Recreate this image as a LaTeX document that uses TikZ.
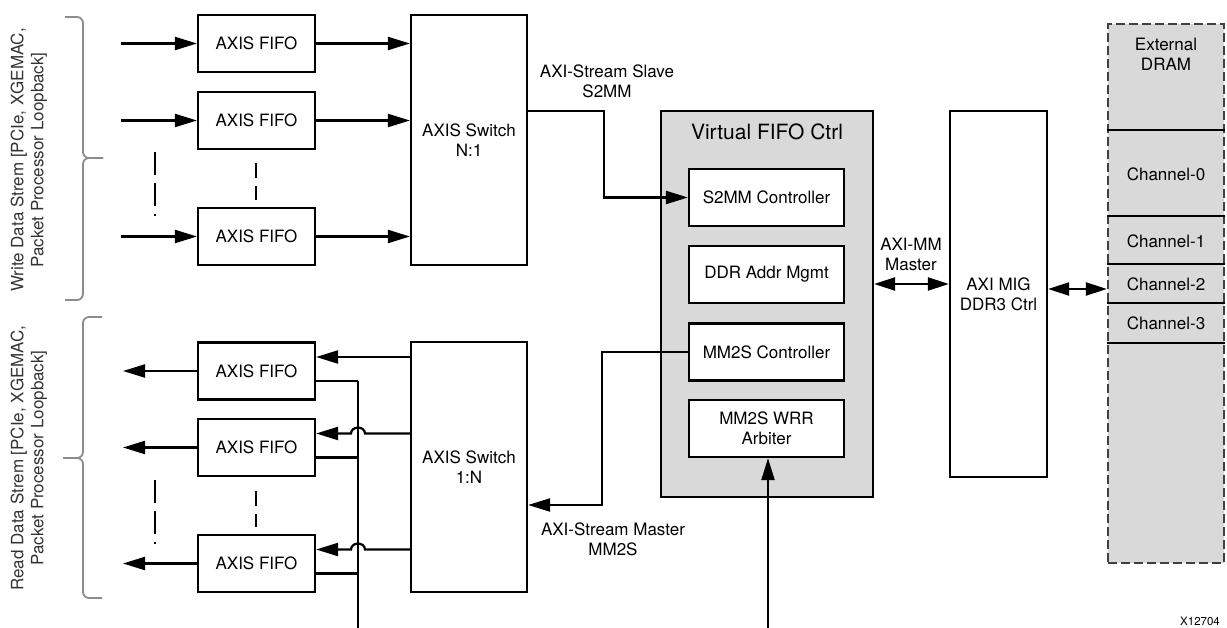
\documentclass[tikz,border=0pt]{standalone}
\usepackage{fontspec}
\setmainfont{TeX Gyre Heros}
\usetikzlibrary{arrows.meta}
\definecolor{vfgray}{RGB}{217,217,217}
\definecolor{bracegray}{RGB}{140,140,140}
\begin{document}
\begin{tikzpicture}[x=1pt,y=-1pt,line width=2.2pt,
    font=\fontsize{17}{20}\selectfont,
    blk/.style={draw,fill=white,align=center,inner sep=0pt},
    fifo/.style={blk,minimum width=117pt,minimum height=57pt},
    switchbox/.style={blk,minimum width=116pt,minimum height=250pt},
    sub/.style={blk,minimum width=155pt,minimum height=57pt},
    chan/.style={minimum width=116pt,inner sep=0pt},
    flow/.style={-{Triangle[length=22pt,width=13pt]}},
    bidir/.style={{Triangle[length=21pt,width=13pt]}-{Triangle[length=21pt,width=13pt]}},
    bracket/.style={draw=bracegray,line width=1.8pt,rounded corners=6pt}]
    \useasboundingbox (0,0) rectangle (1227,628);

    % write side
    \node[fifo] (wA) at (256.5,43.5) {AXIS FIFO};
    \node[fifo] (wB) at (256.5,120.5) {AXIS FIFO};
    \node[fifo] (wC) at (256.5,236.5) {AXIS FIFO};
    \node[switchbox] (swN) at (469,140) {AXIS Switch\\N:1};

    \coordinate (wAsrc) at (121,43.5);
    \coordinate (wBsrc) at (121,120.5);
    \coordinate (wCsrc) at (121,236.5);
    \draw[flow] (wAsrc) -- (wA);
    \draw[flow] (wBsrc) -- (wB);
    \draw[flow] (wCsrc) -- (wC);
    \draw[flow] (wA) -- (wA -| swN.west);
    \draw[flow] (wB) -- (wB -| swN.west);
    \draw[flow] (wC) -- (wC -| swN.west);

    \draw[dash pattern=on 23pt off 8pt on 23pt off 8pt on 2pt off 40pt] (155,152) -- (155,217);
    \draw[dash pattern=on 15pt off 8pt on 14pt off 40pt] (256,163) -- (256,200);

    % read side
    \node[fifo] (rA) at (256.5,371) {AXIS FIFO};
    \node[fifo] (rB) at (256.5,447.5) {AXIS FIFO};
    \node[fifo] (rC) at (256.5,563.5) {AXIS FIFO};
    \node[switchbox] (swI) at (469,467) {AXIS Switch\\1:N};

    \coordinate (rAdst) at (123,371);
    \coordinate (rBdst) at (123,447.5);
    \coordinate (rCdst) at (123,563.5);
    \draw[flow] (rA) -- (rAdst);
    \draw[flow] (rB) -- (rBdst);
    \draw[flow] (rC) -- (rCdst);

    \coordinate (bus) at (358,628);
    \coordinate (rAin) at ([yshift=14pt]rA.east);
    \coordinate (rBin) at ([yshift=14pt]rB.east);
    \coordinate (rCin) at ([yshift=14pt]rC.east);
    \coordinate (rAout) at ([yshift=-10pt]rA.east);
    \coordinate (rBout) at ([yshift=-10pt]rB.east);
    \coordinate (rCout) at ([yshift=-10pt]rC.east);
    \coordinate (hopB) at (bus |- rBin);
    \coordinate (hopC) at (bus |- rCin);
    \draw[flow] (rAin -| swI.west) -- (rAin);
    \draw[flow] (rBin -| swI.west) -- ([xshift=7pt]hopB) arc[start angle=0,end angle=180,x radius=7pt,y radius=6pt] -- (rBin);
    \draw[flow] (rCin -| swI.west) -- ([xshift=7pt]hopC) arc[start angle=0,end angle=180,x radius=7pt,y radius=6pt] -- (rCin);
    \draw (rAout) -- (rAout -| bus);
    \draw (rBout) -- (rBout -| bus);
    \draw (rCout) -- (rCout -| bus);
    \draw (bus |- rAout) -- (bus);

    \draw[dash pattern=on 23pt off 8pt on 23pt off 8pt on 2pt off 40pt] (155,480) -- (155,545);
    \draw[dash pattern=on 15pt off 8pt on 14pt off 40pt] (256,491) -- (256,527);

    % braces and side texts
    \draw[bracket] (65,17) -- (83,17) -- (83,158) -- (103,158);
    \draw[bracket] (103,158) -- (83,158) -- (83,300) -- (65,300);
    \draw[bracket] (102,317) -- (83,317) -- (83,458) -- (63,458);
    \draw[bracket] (63,458) -- (83,458) -- (83,598) -- (102,598);
    \node[rotate=90,align=center,text=black!80] (wrlbl) at (29,160) {Write Data Strem [PCIe, XGEMAC,\\Packet Processor Loopback]};
    \node[rotate=90,align=center,text=black!80] (rdlbl) at (29,458) {Read Data Strem [PCIe, XGEMAC,\\Packet Processor Loopback]};

    % virtual fifo
    \node[draw,fill=vfgray,minimum width=212pt,minimum height=386pt] (vfifo) at (767,304) {};
    \node (vftitle) at (767,132) {\fontsize{21}{24}\selectfont Virtual FIFO Ctrl};
    \node[sub] (s2mm) at (766.5,197.5) {S2MM Controller};
    \node[sub] (ddr) at (766.5,274.5) {DDR Addr Mgmt};
    \node[sub] (mm2s) at (766.5,352) {MM2S Controller};
    \node[sub] (arb) at (766.5,428.5) {MM2S WRR\\Arbiter};

    \coordinate (swNout) at ([yshift=29pt]swN.east);
    \draw[flow] (swNout) -- ++(76,0) |- (s2mm.west);
    \coordinate (swIin) at ([yshift=-38pt]swI.east);
    \draw[flow] (mm2s.west) -- ++(-86,0) |- (swIin);
    \node[align=center] (s2mmlbl) at (607,81) {AXI-Stream Slave\\S2MM};
    \node[align=center] (mm2slbl) at (613,539.5) {AXI-Stream Master\\MM2S};

    \coordinate (arbsrc) at (768,628);
    \draw[flow] (arbsrc) -- (arbsrc |- arb.south);

    % memory controller and dram
    \node[blk,minimum width=97pt,minimum height=366pt] (mig) at (998.5,294) {AXI MIG\\DDR3 Ctrl};
    \coordinate (migin) at ([yshift=10pt]mig.west);
    \draw[bidir] (vfifo.east |- migin) -- (migin);
    \node[align=center] (mmlbl) at (911,254.5) {AXI-MM\\Master};

    \node[draw=black!75,line width=1.6pt,dash pattern=on 9pt off 4pt,fill=vfgray,minimum width=116pt,minimum height=539pt] (dram) at (1166,293.5) {};
    \node[align=center] (dramlbl) at (1166,54.5) {External\\DRAM};
    \node[chan,minimum height=86pt] (ch0) at (1166,174) {Channel-0};
    \node[chan,minimum height=48pt] (ch1) at (1166,241) {Channel-1};
    \node[chan,minimum height=39pt] (ch2) at (1166,284.5) {Channel-2};
    \node[chan,minimum height=38pt] (ch3) at (1166,323) {Channel-3};
    \draw (ch0.north west) -- (ch0.north east);
    \draw (ch1.north west) -- (ch1.north east);
    \draw (ch2.north west) -- (ch2.north east);
    \draw (ch3.north west) -- (ch3.north east);
    \draw (ch3.south west) -- (ch3.south east);

    \coordinate (migout) at ([yshift=5pt]mig.east);
    \draw[bidir] (migout) -- (migout -| ch2.west);

    \node[font=\fontsize{11.5}{13}\selectfont] (fignum) at (1200,621) {X12704};
\end{tikzpicture}
\end{document}
